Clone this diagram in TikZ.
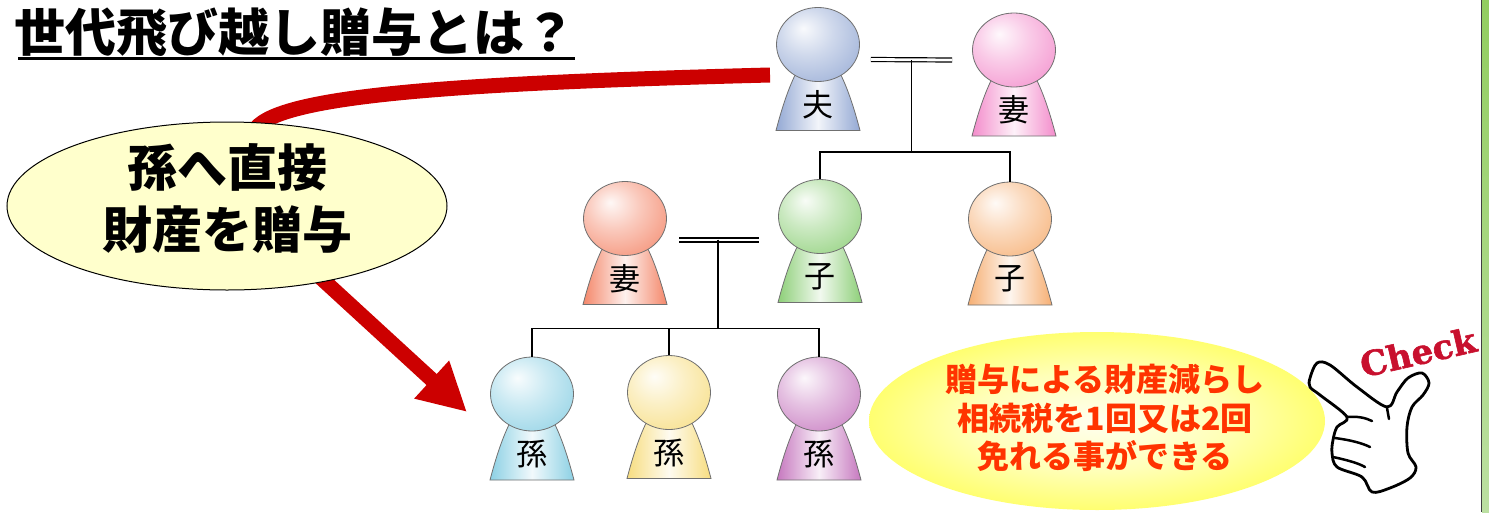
\documentclass[tikz,border=0pt]{standalone}
\usepackage{fontspec}
\newfontfamily\jp{Noto Sans CJK JP}
\newfontfamily\chk{DejaVu Serif}[BoldFeatures={FakeBold=1.6}]
\usepackage{xcolor}
\usepackage{tikz}
\usetikzlibrary{arrows.meta, calc, shapes.geometric}

\definecolor{outl}{HTML}{707070}
\definecolor{giftred}{HTML}{CC0000}
\definecolor{giftfill}{HTML}{FFFFCC}
\definecolor{meritred}{HTML}{FF3300}
\definecolor{checkred}{HTML}{C8102E}
\definecolor{stripA}{HTML}{92CD60}
\definecolor{stripB}{HTML}{BCE0A2}
\definecolor{glowin}{HTML}{FFFFF0}
\definecolor{glowmid}{HTML}{FFFFB8}
\definecolor{glowout}{HTML}{FFFF28}
\definecolor{husbandcol}{HTML}{94A9D4}
\definecolor{wifeAcol}{HTML}{F38CCB}
\definecolor{wifeBcol}{HTML}{F4876A}
\definecolor{childAcol}{HTML}{8DCF78}
\definecolor{childBcol}{HTML}{F6AF73}
\definecolor{grandAcol}{HTML}{8CD0E4}
\definecolor{grandBcol}{HTML}{F7DD80}
\definecolor{grandCcol}{HTML}{C678BF}
\colorlet{headcol}{gray}

\pgfdeclareradialshading[headcol]{headball}{\pgfpoint{-9bp}{11bp}}{color(0bp)=(headcol!6!white); color(16bp)=(headcol!45!white); color(42bp)=(headcol); color(70bp)=(headcol)}
\pgfdeclareradialshading{glow}{\pgfpoint{0bp}{0bp}}{color(0bp)=(glowin); color(14bp)=(glowmid); color(36bp)=(glowout); color(70bp)=(glowout)}

\tikzstyle{head}=[ellipse, draw=outl, line width=0.8pt, minimum width=83pt, minimum height=74pt, inner sep=0pt, shade, shading=headball]
\tikzstyle{tag}=[font=\jp\fontsize{31pt}{31pt}\selectfont, inner sep=0pt]
\tikzstyle{famline}=[line width=1.8pt]
\tikzstyle{wed}=[double, double distance=2.8pt, line width=1.2pt]
\tikzstyle{giftarrow}=[draw=giftred, line width=15pt, -{Triangle[length=48pt, width=48pt]}]

% one figure: name, x, y of head centre, colour, label
\newcommand{\person}[5]{%
  \colorlet{headcol}{#4}
  \shade[left color=#4, right color=#4, middle color=#4!12!white, draw=outl, line width=0.8pt]
    (#2-42,#3+86) parabola bend (#2,#3+7) (#2+42,#3+86) -- cycle;
  \node[head] (#1) at (#2,#3) {};
  \node[tag] (#1-tag) at (#2,#3+60) {#5};
}

\begin{document}
\begin{tikzpicture}[x=1pt, y=-1pt]
\fill[white] (0,0) rectangle (1489,512);
\useasboundingbox (0,0) rectangle (1489,512);

% side strip
\shade[top color=stripA, bottom color=stripB] (1482,0) rectangle (1489,512);
\draw[line width=1.3pt, black!75] (1481.5,0) -- (1481.5,512);

% title
\node[font=\jp\bfseries\fontsize{51pt}{51pt}\selectfont, inner sep=0pt] (title) at (295,32) {世代飛び越し贈与とは？};
\draw[line width=3pt] (18,58.5) -- (575,58.5);

% red arrow, hidden part runs under the bubble
\coordinate (arrStart) at (770,75);
\coordinate (arrTip) at (467,412);
\draw[giftarrow] (arrStart) .. controls (420,84) and (262,98) .. (252,135) -- (236,200) -- (arrTip);

% bubble on the left
\node[ellipse, draw, line width=1pt, fill=giftfill, minimum width=440pt, minimum height=168pt] (gift) at (227,206) {};
\node[font=\jp\bfseries\fontsize{50pt}{62pt}\selectfont, align=center, inner sep=0pt] (giftText) at (227,198) {孫へ直接\\財産を贈与};

% bubble on the right
\node[ellipse, shade, shading=glow, minimum width=456pt, minimum height=178pt] (merit) at (1097,421) {};
\node[font=\jp\bfseries\fontsize{32pt}{38.5pt}\selectfont, text=meritred, align=center, inner sep=0pt] (meritText) at (1105,418) {贈与による財産減らし\\相続税を1回又は2回\\免れる事ができる};

% family
\person{husband}{818}{44.5}{husbandcol}{夫}
\person{wifeA}{1014}{50}{wifeAcol}{妻}
\person{wifeB}{625}{218.5}{wifeBcol}{妻}
\person{childA}{820}{216.5}{childAcol}{子}
\person{childB}{1010}{219}{childBcol}{子}
\person{grandA}{532}{394}{grandAcol}{孫}
\person{grandB}{669}{392.5}{grandBcol}{孫}
\person{grandC}{819}{394}{grandCcol}{孫}

\draw[wed] ([shift={(11,15)}]husband.east) -- ([shift={(-20,10)}]wifeA.west);
\coordinate (wedA) at ($(husband.east)!0.46!(wifeA.west)+(0,13)$);
\draw[famline] (wedA) -- ++(0,92) coordinate (barA);
\draw[famline] (childA.north) |- (barA) -| (childB.north);

\draw[wed] ([shift={(12.5,21.5)}]wifeB.east) -- ([shift={(-19.5,23.5)}]childA.west);
\coordinate (wedB) at ($(wifeB.east)!0.46!(childA.west)+(0,22)$);
\draw[famline] (wedB) -- ++(0,89) coordinate (barB);
\draw[famline] (grandA.north) |- (barB) -| (grandC.north);
\draw[famline] (grandB.north) -- (grandB.north |- barB);

% pointing hand
\draw[line width=2.8pt, fill=white, line join=round] plot[smooth cycle, tension=0.55] coordinates {
  (1310,378) (1317,363) (1330,365) (1357,387) (1387,407) (1397,392) (1408,378)
  (1422,373) (1429,383) (1423,395) (1412,407) (1407,427) (1408,453) (1416,467)
  (1410,478) (1390,488) (1372,492) (1362,477) (1337,467) (1332,453) (1333,440)
  (1337,427) (1347,417) (1320,395) (1310,387)};
\draw[line width=2.5pt, line cap=round] (1347,417) .. controls (1358,416) and (1366,418) .. (1372,421);
\draw[line width=2.5pt, line cap=round] (1335,438) .. controls (1350,440) and (1362,443) .. (1370,447);
\draw[line width=2.5pt, line cap=round] (1333,457) .. controls (1347,460) and (1358,463) .. (1365,467);
\draw[line width=2.5pt, line cap=round] (1387,408) -- (1389,419);
\node[font=\chk\bfseries\fontsize{34pt}{34pt}\selectfont, text=checkred, rotate=13, inner sep=0pt] (check) at (1418,352) {Check};

\end{tikzpicture}
\end{document}
